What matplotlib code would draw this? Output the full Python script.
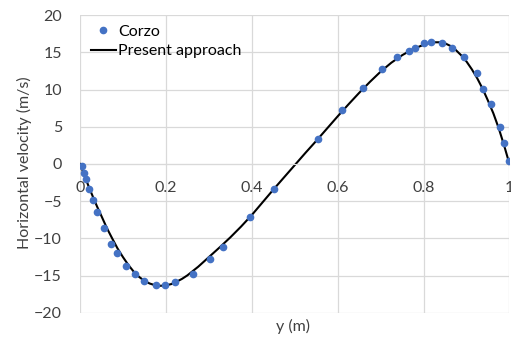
import numpy as np
import matplotlib
matplotlib.use('Agg')
import matplotlib.pyplot as plt

plt.rcParams['font.family'] = ['Lato', 'DejaVu Sans']

# Corzo data points
corzo_y = [0.005, 0.010, 0.015, 0.020, 0.030, 0.040, 0.055, 0.072, 0.086, 0.106,
           0.127, 0.150, 0.176, 0.197, 0.221, 0.262, 0.303, 0.333, 0.396, 0.452,
           0.554, 0.611, 0.660, 0.704, 0.737, 0.767, 0.780, 0.802, 0.817, 0.842,
           0.866, 0.894, 0.924, 0.938, 0.958, 0.977, 0.988, 0.9995]
corzo_u = [-0.3, -1.2, -2.0, -3.4, -4.8, -6.4, -8.6, -10.7, -12.0, -13.7,
           -14.8, -15.7, -16.2, -16.2, -15.8, -14.7, -12.7, -11.2, -7.1, -3.35,
           3.35, 7.2, 10.25, 12.8, 14.3, 15.2, 15.6, 16.2, 16.4, 16.3,
           15.6, 14.3, 12.2, 10.1, 8.0, 5.0, 2.8, 0.4]

# present approach curve
line_y = [0, 0.01, 0.02, 0.03, 0.04, 0.05, 0.0625, 0.075, 0.0875, 0.1, 0.1125, 0.125,
          0.1375, 0.15, 0.1625, 0.175, 0.1875, 0.2, 0.2125, 0.225, 0.2375, 0.25, 0.275,
          0.3, 0.325, 0.35, 0.375, 0.4, 0.425, 0.45, 0.475, 0.5, 0.525, 0.55, 0.575,
          0.6, 0.625, 0.65, 0.675, 0.7, 0.725, 0.75, 0.775, 0.8, 0.8125, 0.825, 0.8375,
          0.85, 0.8625, 0.875, 0.8875, 0.9, 0.9125, 0.925, 0.9375, 0.95, 0.9625, 0.975,
          0.9875, 1.0]
line_u = [0, -1.5, -3.0, -4.4, -5.75, -7.0, -8.6, -10.0, -11.35, -12.5, -13.55, -14.45,
          -15.15, -15.7, -16.05, -16.28, -16.35, -16.3, -16.12, -15.8, -15.42, -14.95, -13.8,
          -12.5, -11.2, -9.85, -8.4, -6.85, -5.15, -3.45, -1.8, -0.15, 1.5, 3.1, 4.75,
          6.4, 8.0, 9.55, 11.02, 12.4, 13.6, 14.6, 15.42, 16.0, 16.22, 16.34, 16.34,
          16.2, 15.85, 15.3, 14.6, 13.75, 12.7, 11.5, 10.1, 8.5, 6.8, 4.8,
          2.5, 0]

x_ticks = [0, 0.2, 0.4, 0.6, 0.8, 1]
x_labels = ['0', '0.2', '0.4', '0.6', '0.8', '1']
y_ticks = [-20, -15, -10, -5, 0, 5, 10, 15, 20]

fig = plt.figure(figsize=(5.11, 3.45), dpi=100)
ax = fig.add_axes([0.1566, 0.0928, 0.8404, 0.8637])

ax.plot(corzo_y, corzo_u, 'o', color='#4472C4', markersize=4.5, label='Corzo', zorder=3)
ax.plot(line_y, line_u, '-', color='black', linewidth=1.5, label='Present approach', zorder=2)

ax.set_xlim(0, 1)
ax.set_ylim(-20, 20)
ax.set_xticks(x_ticks)
ax.set_xticklabels(x_labels)
ax.set_yticks(y_ticks)
ax.grid(True, color='#d9d9d9', linewidth=0.9)
ax.set_axisbelow(True)

for s in ['top', 'right', 'left']:
    ax.spines[s].set_visible(False)
ax.spines['bottom'].set_position(('data', 0))
ax.spines['bottom'].set_color('#d9d9d9')
ax.tick_params(axis='both', length=0, labelsize=11.5, colors='#404040')
ax.tick_params(axis='x', pad=12)
ax.tick_params(axis='y', pad=13)

ax.set_xlabel('y (m)', fontsize=11.5, color='#404040')
ax.xaxis.set_label_coords(0.496, -0.02)
ax.set_ylabel('Horizontal velocity (m/s)', fontsize=11.5, color='#404040')
ax.yaxis.set_label_coords(-0.112, 0.505)

ax.legend(loc='upper left', bbox_to_anchor=(0.01, 0.99), frameon=False, fontsize=11.5,
          handlelength=1.6, handletextpad=0.1, labelspacing=0.35, borderaxespad=0)

fig.savefig('out.png', dpi=100)
